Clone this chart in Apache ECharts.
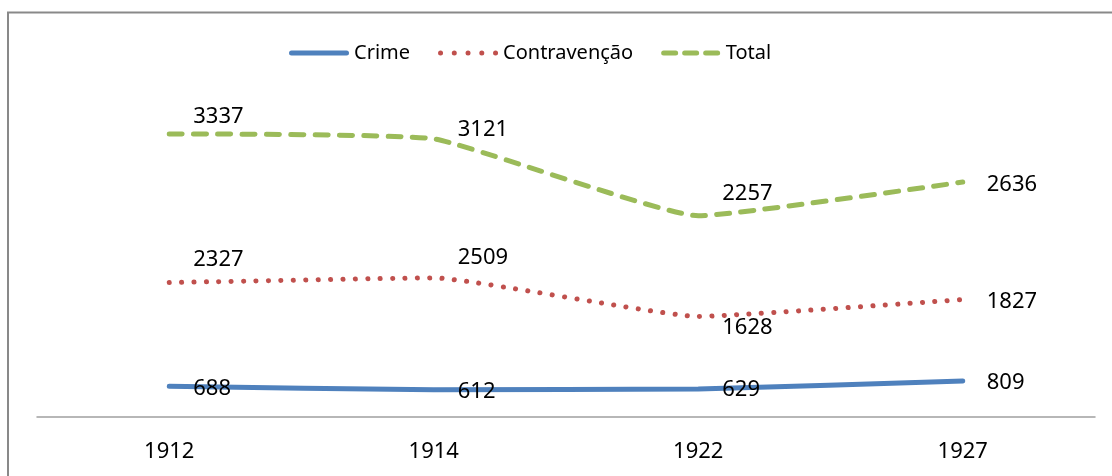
<!DOCTYPE html>
<html>
<head>
<meta charset="utf-8">
<script src="https://cdn.jsdelivr.net/npm/echarts@6/dist/echarts.min.js"></script>
<style>
  html, body { margin: 0; padding: 0; background: #fff; }
  #box { width: 1112px; height: 476px; }
</style>
</head>
<body>
<div id="box"></div>
<script>
var years = ['1912', '1914', '1922', '1927'];
var crime = [688, 612, 629, 809];
var contravencao = [2327, 2509, 1628, 1827];
var total = [3337, 3121, 2257, 2636];

// vertical shift of each data label (px)
var crimeDy = [2, 2, 1, 2];
var contravencaoDy = [-23, -20, 11, 2];
var totalDy = [-17, -9, -22, 3];

function withLabels(values, dys) {
  return values.map(function (v, i) {
    return { value: v, label: { offset: [0, dys[i]] } };
  });
}

// legend icons: solid bar, round dots, dashes (60 x 5)
var iconSolid = 'path://M2.5,0 h55 a2.5,2.5 0 0,1 0,5 h-55 a2.5,2.5 0 0,1 0,-5 z';
var iconDots = 'path://';
for (var i = 0; i < 5; i++) {
  var cx = 2.5 + i * 13.75;
  iconDots += 'M' + (cx - 2.5) + ',2.5 a2.5,2.5 0 1,0 5,0 a2.5,2.5 0 1,0 -5,0 z ';
}
var iconDash = 'path://';
for (var j = 0; j < 3; j++) {
  var x0 = 2.5 + j * 21;
  iconDash += 'M' + x0 + ',0 h12 a2.5,2.5 0 0,1 0,5 h-12 a2.5,2.5 0 0,1 0,-5 z ';
}

var chartDom = document.getElementById('box');
var myChart = echarts.init(chartDom);
var font = '"Noto Sans", sans-serif';
var labelStyle = {
  show: true,
  position: 'right',
  distance: 24,
  color: '#000',
  fontSize: 22,
  fontFamily: font
};

var option = {
  animation: false,
  textStyle: { fontFamily: font },
  graphic: [{
    type: 'rect',
    shape: { x: 8, y: 12.5, width: 1200, height: 600 },
    style: { fill: 'none', stroke: '#898989', lineWidth: 2 },
    silent: true
  }],
  legend: {
    left: 284,
    top: 38,
    itemWidth: 60,
    itemHeight: 5,
    itemGap: 28,
    textStyle: { fontSize: 20, color: '#000', fontFamily: font },
    data: [
      { name: 'Crime', icon: iconSolid },
      { name: 'Contravenção', icon: iconDots },
      { name: 'Total', icon: iconDash }
    ]
  },
  grid: { left: 37, right: 17, top: 105, bottom: 59 },
  xAxis: {
    type: 'category',
    boundaryGap: true,
    data: years,
    axisLine: { lineStyle: { color: '#a0a0a0', width: 1.5 } },
    axisTick: { show: false },
    axisLabel: { color: '#000', fontSize: 22, fontFamily: font, margin: 24 }
  },
  yAxis: {
    type: 'value',
    min: 0,
    max: 7000,
    show: false,
    splitLine: { show: false }
  },
  series: [
    {
      name: 'Crime',
      type: 'line',
      stack: 'all',
      smooth: 0.12,
      symbol: 'circle',
      symbolSize: 0,
      showSymbol: true,
      color: '#4f81bd',
      lineStyle: { color: '#4f81bd', width: 5, cap: 'round' },
      label: labelStyle,
      data: withLabels(crime, crimeDy)
    },
    {
      name: 'Contravenção',
      type: 'line',
      stack: 'all',
      smooth: 0.12,
      symbol: 'circle',
      symbolSize: 0,
      showSymbol: true,
      color: '#c0504d',
      lineStyle: { color: '#c0504d', width: 5, cap: 'round', type: [0.1, 12.3] },
      label: labelStyle,
      data: withLabels(contravencao, contravencaoDy)
    },
    {
      name: 'Total',
      type: 'line',
      stack: 'all',
      smooth: 0.12,
      symbol: 'circle',
      symbolSize: 0,
      showSymbol: true,
      color: '#9bbb59',
      lineStyle: { color: '#9bbb59', width: 5, cap: 'round', type: [13, 11.3] },
      label: labelStyle,
      data: withLabels(total, totalDy)
    }
  ]
};
option && myChart.setOption(option);
</script>
</body>
</html>
